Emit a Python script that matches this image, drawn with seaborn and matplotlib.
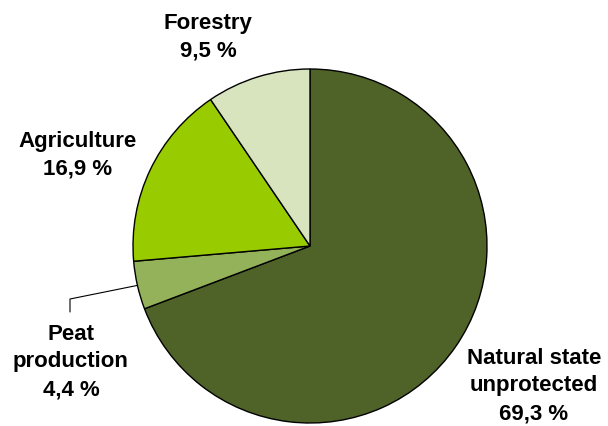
import numpy as np
import seaborn as sns
import matplotlib.pyplot as plt

# land use shares (%)
labels = ["Natural state\nunprotected", "Peat\nproduction", "Agriculture", "Forestry"]
values = [69.3, 4.4, 16.9, 9.5]
value_text = ["69,3 %", "4,4 %", "16,9 %", "9,5 %"]
colors = ["#4F6228", "#93B25A", "#99CC00", "#D7E4BD"]

sns.set_theme(style="white")
plt.rcParams['font.family'] = ['Liberation Sans', 'DejaVu Sans']

fig = plt.figure(figsize=(6.08, 4.26), dpi=100)
ax = fig.add_axes([0, 0, 1, 1])

cx, cy, r = 310, 180, 177
wedges, _ = ax.pie(values, colors=colors, startangle=90, counterclock=False,
                   center=(cx, cy), radius=r, frame=True,
                   wedgeprops=dict(edgecolor="black", linewidth=1))
ax.set_xlim(0, 608)
ax.set_ylim(0, 426)
ax.set_aspect("equal")
ax.axis("off")

# label positions (pixels from top-left)
label_pos = [(534, 386), (71, 362), (78, 155), (208, 37)]
for lab, val, (x, y) in zip(labels, value_text, label_pos):
    ax.text(x, 426 - y, lab + "\n" + val, ha="center", va="center",
            fontsize=16, fontweight="bold", linespacing=1.42, color="black")

# leader line for peat production
w = wedges[1]
mid = np.deg2rad((w.theta1 + w.theta2) / 2)
sx, sy = cx + r * np.cos(mid), cy + r * np.sin(mid)
ax.plot([sx, 70, 70], [sy, 426 - 299, 426 - 312], color="black", linewidth=0.8)

fig.savefig("out.png", dpi=100)
